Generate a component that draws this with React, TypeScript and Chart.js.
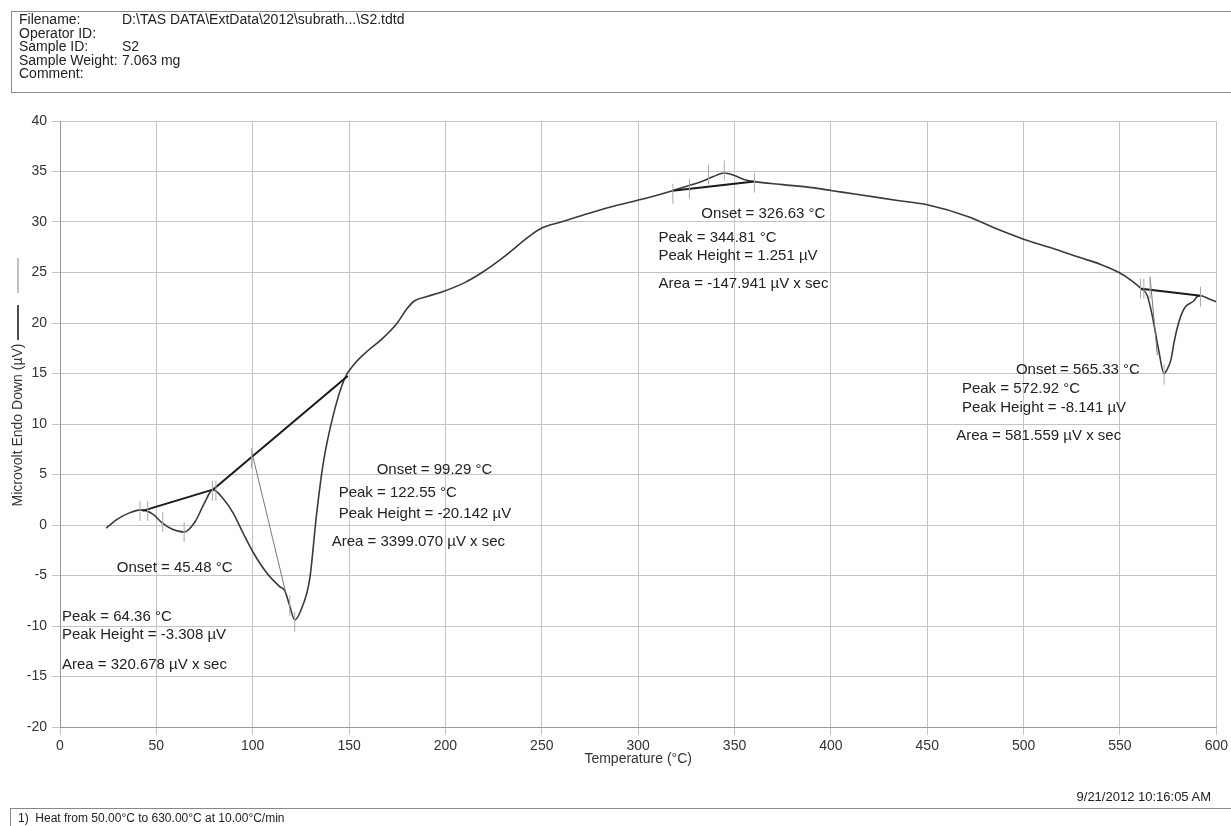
import React, { useEffect, useRef } from "react";
import { Chart, registerables } from "chart.js";

Chart.register(...registerables);

// ---- Data ----
const tempC = [
  24, 30, 36, 42, 48, 53, 58, 64.4, 70, 75, 79.3, 84.7, 89.8, 95, 100.2, 107.1, 114, 116.6, 119.2, 121.8,
  125.3, 129.6, 133.1, 136.5, 141.7, 147.7, 153, 160, 167, 175, 180, 184, 190, 198.5, 210, 219, 230,
  243.6, 250, 260, 275, 290, 305, 317.8, 326, 333, 339, 344.8, 350, 355, 360.3, 375, 390, 400.7, 415, 435.5,
  450, 471.7, 485, 500, 515, 528.8, 540, 549.5, 556, 561, 564, 566, 568, 570, 572.9, 574.5, 576.5, 578,
  579.6, 582, 584, 588.4, 590, 592, 596, 600,
];
const microvolt = [
  -0.3, 0.6, 1.2, 1.5, 1.1, 0.2, -0.4, -0.7, 0.3, 2.2, 3.5, 2.6, 1.2, -0.8, -2.7, -4.7, -6.1, -6.5, -8.0, -9.4,
  -8.3, -5.3, 1.0, 6.0, 10.8, 14.5, 16.0, 17.3, 18.4, 20.0, 21.4, 22.2, 22.6, 23.1, 24.0, 25.0, 26.5,
  28.6, 29.4, 30.0, 30.9, 31.7, 32.4, 33.1, 33.6, 34.0, 34.5, 34.85, 34.6, 34.2, 34.0, 33.7, 33.4, 33.1, 32.7, 32.1,
  31.7, 30.5, 29.4, 28.3, 27.4, 26.5, 25.8, 25.0, 24.2, 23.4, 22.8, 21.4, 19.5, 17.4, 15.0, 15.4, 16.4, 18.0,
  19.4, 20.9, 21.6, 22.2, 22.6, 22.7, 22.4, 22.1,
];

// Integration baselines (start temp, start µV, end temp, end µV)
const baselineA = [42.8, 1.4, 79.3, 3.5];
const baselineB = [79.3, 3.5, 149.3, 14.75];
const baselineC = [317.8, 33.1, 360.3, 34.0];
const baselineD = [561, 23.4, 592, 22.7];
// Onset tangents
const tangentA = [99.3, 7.4, 117, -6.6];
const tangentB = [565.6, 24.6, 569.4, 16.8];

// Small vertical limit markers
const markerTemp = [41.5, 45.5, 53.3, 64.4, 79.1, 80.9, 99.4, 119.2, 121.8, 318, 326.6, 336.5, 344.7, 360.3, 560.7, 562.4, 565.6, 572.9, 591.8];
const markerUv = [1.4, 1.4, 0.3, -0.7, 3.4, 3.4, 6.6, -8.0, -9.6, 32.8, 33.3, 34.7, 35.1, 33.9, 23.4, 23.4, 23.4, 14.9, 22.6];

// Axis ticks
const xMin = 0, xMax = 600, xStep = 50;
const yMin = -20, yMax = 40, yStep = 5;

// Annotation texts and their anchor (temp, µV)
const noteTexts = [
  "Onset = 45.48 °C", "Peak = 64.36 °C", "Peak Height = -3.308 µV", "Area = 320.678 µV x sec",
  "Onset = 99.29 °C", "Peak = 122.55 °C", "Peak Height = -20.142 µV", "Area = 3399.070 µV x sec",
  "Onset = 326.63 °C", "Peak = 344.81 °C", "Peak Height = 1.251 µV", "Area = -147.941 µV x sec",
  "Onset = 565.33 °C", "Peak = 572.92 °C", "Peak Height = -8.141 µV", "Area = 581.559 µV x sec",
];
const noteTemp = [29.5, 1, 1, 1, 164.3, 144.6, 144.6, 141, 332.8, 310.5, 310.5, 310.5, 496, 468, 468, 465];
const noteUv = [-4.2, -9.1, -10.9, -13.8, 5.5, 3.2, 1.1, -1.7, 30.8, 28.4, 26.6, 23.9, 15.4, 13.5, 11.6, 8.8];

const headerLabels = ["Filename:", "Operator ID:", "Sample ID:", "Sample Weight:", "Comment:"];
const headerValues = ["D:\\TAS DATA\\ExtData\\2012\\subrath...\\S2.tdtd", "", "S2", "7.063 mg", ""];

const FONT = '"Liberation Sans", Arial, sans-serif';

const seg = (a: number[]) => [{ x: a[0], y: a[1] }, { x: a[2], y: a[3] }];

export default function App() {
  const ref = useRef<HTMLCanvasElement>(null);

  useEffect(() => {
    if (!ref.current) return;
    const notesPlugin = {
      id: "notes",
      afterDatasetsDraw(chart: any) {
        const { ctx, scales } = chart;
        ctx.save();
        ctx.font = `15px ${FONT}`;
        ctx.fillStyle = "#222";
        ctx.textAlign = "left";
        ctx.textBaseline = "middle";
        noteTexts.forEach((t, i) => {
          ctx.fillText(t, scales.x.getPixelForValue(noteTemp[i]), scales.y.getPixelForValue(noteUv[i]));
        });
        ctx.restore();
      },
      afterDraw(chart: any) {
        const { ctx, chartArea } = chart;
        ctx.save();
        // y title
        ctx.translate(18, 425);
        ctx.rotate(-Math.PI / 2);
        ctx.font = `14px ${FONT}`;
        ctx.fillStyle = "#333";
        ctx.textAlign = "center";
        ctx.textBaseline = "middle";
        ctx.fillText("Microvolt Endo Down (µV)", 0, 0);
        ctx.restore();
        ctx.save();
        // legend strokes
        ctx.strokeStyle = "#999";
        ctx.lineWidth = 1.2;
        ctx.beginPath();
        ctx.moveTo(18, 258);
        ctx.lineTo(18, 293);
        ctx.stroke();
        ctx.strokeStyle = "#222";
        ctx.lineWidth = 1.6;
        ctx.beginPath();
        ctx.moveTo(18, 305);
        ctx.lineTo(18, 340);
        ctx.stroke();
        // x title
        ctx.font = `14px ${FONT}`;
        ctx.fillStyle = "#333";
        ctx.textAlign = "center";
        ctx.textBaseline = "middle";
        ctx.fillText("Temperature (°C)", (chartArea.left + chartArea.right) / 2, 759);
        ctx.restore();
      },
    };

    const lineDs = (a: number[], color: string, width: number) => ({
      type: "line" as const,
      data: seg(a),
      borderColor: color,
      borderWidth: width,
      pointRadius: 0,
      fill: false,
    });

    const chart = new Chart(ref.current, {
      type: "line",
      data: {
        datasets: [
          {
            type: "scatter" as any,
            data: markerTemp.map((x, i) => ({ x, y: markerUv[i] })),
            pointStyle: "line",
            rotation: 90,
            radius: 10,
            borderColor: "#aaa",
            borderWidth: 1,
            showLine: false,
          } as any,
          lineDs(tangentA, "#777", 1),
          lineDs(tangentB, "#777", 1),
          lineDs(baselineA, "#1a1a1a", 2),
          lineDs(baselineB, "#1a1a1a", 2),
          lineDs(baselineC, "#1a1a1a", 2),
          lineDs(baselineD, "#1a1a1a", 2),
          {
            type: "line",
            data: tempC.map((x, i) => ({ x, y: microvolt[i] })),
            borderColor: "#3a3a3a",
            borderWidth: 1.6,
            pointRadius: 0,
            cubicInterpolationMode: "monotone",
            fill: false,
          } as any,
        ],
      },
      options: {
        responsive: false,
        animation: false,
        events: [],
        layout: { padding: { left: 0, right: 14, top: 121, bottom: 69 } },
        plugins: { legend: { display: false }, tooltip: { enabled: false } },
        scales: {
          x: {
            type: "linear",
            min: xMin,
            max: xMax,
            afterFit: (s: any) => { s.height = 30; },
            ticks: { stepSize: xStep, font: { family: FONT, size: 14 }, color: "#333", padding: 3, maxRotation: 0 },
            grid: { color: "#c4c4c4", tickLength: 8, lineWidth: 1 },
            border: { color: "#999" },
          },
          y: {
            type: "linear",
            min: yMin,
            max: yMax,
            afterFit: (s: any) => { s.width = 60; },
            ticks: { stepSize: yStep, font: { family: FONT, size: 14 }, color: "#333", padding: 5 },
            grid: { color: "#c4c4c4", tickLength: 8, lineWidth: 1 },
            border: { color: "#999" },
          },
        },
      } as any,
      plugins: [notesPlugin],
    });
    return () => chart.destroy();
  }, []);

  return (
    <div style={{ position: "absolute", left: 0, top: 0, width: 1231, height: 826, background: "#fff", overflow: "hidden", fontFamily: FONT, color: "#222" }}>
      <canvas ref={ref} width={1231} height={826} style={{ position: "absolute", left: 0, top: 0 }} />
      <div style={{ position: "absolute", left: 11, top: 11, width: 1240, height: 82, border: "1px solid #888", boxSizing: "border-box", padding: "1px 0 0 7px", fontSize: 14, lineHeight: "13.6px" }}>
        {headerLabels.map((l, i) => (
          <div key={i} style={{ display: "flex", whiteSpace: "nowrap" }}>
            <span style={{ width: 103, display: "inline-block" }}>{l}</span>
            <span>{headerValues[i]}</span>
          </div>
        ))}
      </div>
      <div style={{ position: "absolute", right: 20, top: 789, fontSize: 13, whiteSpace: "nowrap" }}>9/21/2012 10:16:05 AM</div>
      <div style={{ position: "absolute", left: 10, top: 808, width: 1240, height: 30, border: "1px solid #888", boxSizing: "border-box", padding: "2px 0 0 7px", fontSize: 12, whiteSpace: "nowrap" }}>
        1)&nbsp; Heat from 50.00°C to 630.00°C at 10.00°C/min
      </div>
    </div>
  );
}
